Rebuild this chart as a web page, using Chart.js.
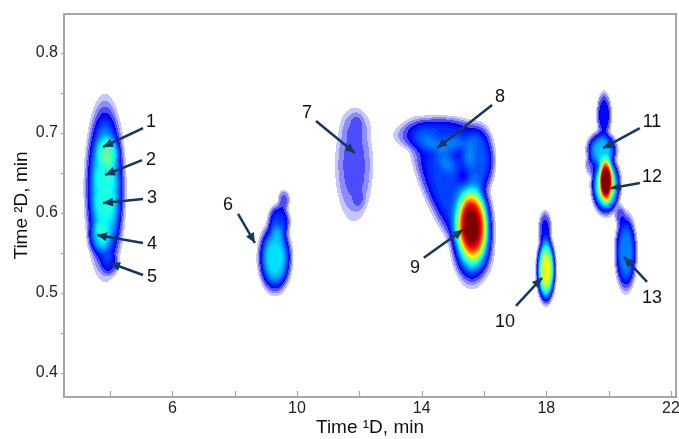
<!DOCTYPE html>
<html><head><meta charset="utf-8">
<script src="https://cdn.jsdelivr.net/npm/chart.js@4.4.0/dist/chart.umd.min.js"></script>
<style>html,body{margin:0;padding:0;background:#fff;overflow:hidden}#wrap{width:679px;height:439px}</style>
</head><body><div id="wrap"><canvas id="c" width="679" height="439"></canvas></div>
<script>
// ---- Axis ticks ----
const xTickLabels = [6, 10, 14, 18, 22];
const xTickMarks = [4, 6, 8, 10, 12, 14, 16, 18, 20, 22];
const yTickLabels = [0.4, 0.5, 0.6, 0.7, 0.8];
const yTickMarks = [0.4, 0.45, 0.5, 0.55, 0.6, 0.65, 0.7, 0.75, 0.8];

// ---- Peak components: 1D time (min), 2D time (min), widths, skew (min/min), relative height ----
const compPeak   = ['1-5','1','2','3','4','5', '6','6','6', '7','7','7','7','7','7', '8','8','8','8', '9','9', '10','10', '11','11','11', '12','12', '13','13'];
const compT1     = [3.84,3.94,3.84,3.84,3.65,4.0, 9.29,9.42,9.58, 11.83,11.92,11.92,11.86,11.92,11.99, 14.59,14.91,15.81,15.07, 15.61,15.64, 17.99,17.96, 19.85,19.78,19.43, 19.91,19.91, 20.55,20.36];
const compT2     = [0.63125,0.6763,0.644,0.6088,0.57,0.5363, 0.544,0.589,0.616, 0.660,0.710,0.7125,0.679,0.644,0.616, 0.6975,0.6225,0.666,0.6725, 0.5788,0.585, 0.529,0.579, 0.7225,0.6788,0.660, 0.635,0.641, 0.551,0.5975];
const compSigT1  = [0.43,0.29,0.29,0.29,0.26,0.22, 0.37,0.26,0.145, 0.45,0.40,0.16,0.16,0.16,0.16, 1.0,0.58,0.385,0.48, 0.465,0.35, 0.21,0.16, 0.175,0.34,0.145, 0.32,0.16, 0.25,0.13];
const compSigT2  = [0.073,0.015,0.015,0.015,0.015,0.011, 0.030,0.016,0.010, 0.052,0.015,0.010,0.010,0.010,0.010, 0.0165,0.0625,0.031,0.019, 0.045,0.0325, 0.028,0.0175, 0.021,0.016,0.010, 0.025,0.020, 0.034,0.010];
const compSkew   = [0,0,0,0,0,0, 0,0,0, 0,0,0,0,0,0, 0,-10.8,0,0, 0,0, 0,0, 0,0,0, 0,0, 0,0];
const compHeight = [0.36,0.12,0.03,0.04,0.12,0.06, 0.34,0.15,0.06, 0.065,0.015,0.02,0.02,0.02,0.02, 0.15,0.17,0.19,0.12, 0.48,0.42, 0.60,0.10, 0.12,0.30,0.05, 0.50,0.60, 0.24,0.06];

// ---- Peak annotations ----
const peakIds = ['1','2','3','4','5','6','7','8','9','10','11','12','13'];
const labelT1 = [5.315,5.315,5.35,5.35,5.35, 7.79,10.32,16.51,13.785,16.67,21.39,21.39,21.39];
const labelT2 = [0.714,0.666,0.619,0.561,0.520, 0.610,0.725,0.745,0.531,0.464,0.714,0.645,0.494];
const tailT1  = [5.06,5.03,5.06,5.06,5.06, 8.11,10.61,16.26,14.07,17.025,21.0,21.0,21.23];
const tailT2  = [0.706,0.666,0.6175,0.5625,0.5225, 0.599,0.715,0.735,0.544,0.484,0.706,0.6375,0.514];
const tipT1   = [3.775,3.84,3.775,3.58,4.0, 8.65,11.86,14.49,15.325,17.86,19.82,20.07,20.49];
const tipT2   = [0.6825,0.6475,0.6125,0.5725,0.5375, 0.5625,0.675,0.681,0.579,0.519,0.681,0.631,0.545];

const ARROW = '#17375e';
const AXIS = '#a6a6a6';
const FONT = "'Liberation Sans', Arial, sans-serif";
const SHAPE_P = 4;

function jet(x){
  const c = v => Math.max(0, Math.min(1, v));
  return [c(1.5-Math.abs(4*x-3)), c(1.5-Math.abs(4*x-2)), c(1.5-Math.abs(4*x-1))].map(v=>Math.round(v*255));
}
function colorFor(f){
  if (f < 0.012) return null;
  if (f < 0.09){
    const l = f < 0.03 ? 0.22 : (f < 0.055 ? 0.45 : 0.70);
    return [Math.round(255*(1-l)), Math.round(255*(1-l)), 255];
  }
  const q = Math.min(1, Math.floor(f/0.02)*0.02 + 0.01);
  return jet(Math.min(1, 0.11 + (q-0.09)*0.978));
}

const heatPlugin = {
  id: 'heat',
  beforeDatasetsDraw(chart){
    const {ctx, chartArea: a, scales: {x, y}} = chart;
    const x0 = Math.ceil(a.left)+1, x1 = Math.floor(a.right)-1;
    const y0 = Math.ceil(a.top)+1, y1 = Math.floor(a.bottom)-1;
    const w = x1 - x0, h = y1 - y0;
    const n = compT1.length;
    const tv = new Float64Array(w), vv = new Float64Array(h);
    for (let i = 0; i < w; i++) tv[i] = x.getValueForPixel(x0+i+0.5);
    for (let j = 0; j < h; j++) vv[j] = y.getValueForPixel(y0+j+0.5);
    const off = document.createElement('canvas'); off.width = w; off.height = h;
    const octx = off.getContext('2d');
    const img = octx.createImageData(w, h);
    const dta = img.data;
    const half = SHAPE_P/2;
    const rowB = new Float64Array(n), rowC = new Float64Array(n);
    for (let j = 0; j < h; j++){
      for (let k = 0; k < n; k++){
        const dv = (vv[j]-compT2[k]);
        const b = dv/compSigT2[k];
        rowB[k] = b*b;
        rowC[k] = compT1[k] + compSkew[k]*dv;
      }
      for (let i = 0; i < w; i++){
        let f = 0;
        for (let k = 0; k < n; k++){
          const b = rowB[k]; if (b > 6) continue;
          const d = (tv[i]-rowC[k])/compSigT1[k];
          const r2 = d*d + b; if (r2 > 6) continue;
          f += compHeight[k]*Math.exp(-0.5*Math.pow(r2, half));
        }
        const c = colorFor(f);
        if (c){ const p = (j*w+i)*4; dta[p]=c[0]; dta[p+1]=c[1]; dta[p+2]=c[2]; dta[p+3]=255; }
      }
    }
    octx.putImageData(img, 0, 0);
    ctx.drawImage(off, x0, y0);
  }
};

const overlayPlugin = {
  id: 'overlay',
  afterDatasetsDraw(chart){
    const {ctx, chartArea: a, scales: {x, y}} = chart;
    ctx.save();
    ctx.strokeStyle = AXIS; ctx.lineWidth = 2;
    ctx.beginPath();
    ctx.moveTo(a.left, a.top); ctx.lineTo(a.right, a.top); ctx.lineTo(a.right, a.bottom);
    ctx.stroke();
    ctx.lineWidth = 1.2;
    xTickMarks.forEach(v => { const px = Math.round(x.getPixelForValue(v))+0.5; ctx.beginPath(); ctx.moveTo(px, a.bottom); ctx.lineTo(px, a.bottom-6); ctx.stroke(); });
    yTickMarks.forEach(v => { const py = Math.round(y.getPixelForValue(v))+0.5; ctx.beginPath(); ctx.moveTo(a.left, py); ctx.lineTo(a.left-3, py); ctx.stroke(); });
    ctx.fillStyle = ARROW;
    for (let i = 0; i < peakIds.length; i++){
      const tx = x.getPixelForValue(tipT1[i]), ty = y.getPixelForValue(tipT2[i]);
      const sx = x.getPixelForValue(tailT1[i]), sy = y.getPixelForValue(tailT2[i]);
      const ang = Math.atan2(ty-sy, tx-sx);
      const L = 10, W = 4.5;
      ctx.beginPath();
      ctx.moveTo(tx, ty);
      ctx.lineTo(tx - L*Math.cos(ang) + W*Math.sin(ang), ty - L*Math.sin(ang) - W*Math.cos(ang));
      ctx.lineTo(tx - L*Math.cos(ang) - W*Math.sin(ang), ty - L*Math.sin(ang) + W*Math.cos(ang));
      ctx.closePath(); ctx.fill();
    }
    ctx.fillStyle = '#111';
    ctx.font = '18px ' + FONT;
    ctx.textAlign = 'center'; ctx.textBaseline = 'middle';
    for (let i = 0; i < peakIds.length; i++){
      ctx.fillText(peakIds[i], x.getPixelForValue(labelT1[i]), y.getPixelForValue(labelT2[i]));
    }
    ctx.restore();
  }
};

const arrowSets = peakIds.map((id, i) => ({
  label: 'peak ' + id,
  data: [{x: tailT1[i], y: tailT2[i]}, {x: tipT1[i], y: tipT2[i]}],
  borderColor: ARROW, borderWidth: 2.5, pointRadius: 0, fill: false, tension: 0
}));

new Chart(document.getElementById('c'), {
  type: 'line',
  data: { datasets: arrowSets },
  options: {
    responsive: false, animation: false, devicePixelRatio: 1,
    layout: { padding: { top: 14, right: 3, left: 0, bottom: 0 } },
    plugins: { legend: { display: false }, tooltip: { enabled: false } },
    scales: {
      x: {
        type: 'linear', min: 2.524, max: 22.16,
        afterBuildTicks: s => { s.ticks = xTickLabels.map(v => ({ value: v })); },
        afterFit: s => { s.height = 42; s.paddingLeft = 0; s.paddingRight = 0; },
        ticks: { font: { family: FONT, size: 16 }, color: '#222', padding: 2, maxRotation: 0, autoSkip: false, callback: v => String(v) },
        grid: { display: false, drawTicks: false },
        border: { display: true, color: AXIS, width: 2 },
        title: { display: true, text: 'Time ¹D, min', font: { family: FONT, size: 19 }, color: '#111', padding: { top: 0, bottom: 0 } }
      },
      y: {
        type: 'linear', min: 0.37, max: 0.84875,
        afterBuildTicks: s => { s.ticks = yTickLabels.map(v => ({ value: v })); },
        afterFit: s => { s.width = 64; s.paddingTop = 0; s.paddingBottom = 0; },
        ticks: { font: { family: FONT, size: 16 }, color: '#222', padding: 6, callback: v => v.toFixed(1) },
        grid: { display: false, drawTicks: false },
        border: { display: true, color: AXIS, width: 2 },
        title: { display: true, text: 'Time ²D, min', font: { family: FONT, size: 19 }, color: '#111', padding: { top: 10, bottom: 0 } }
      }
    }
  },
  plugins: [heatPlugin, overlayPlugin]
});
</script>
</body></html>
